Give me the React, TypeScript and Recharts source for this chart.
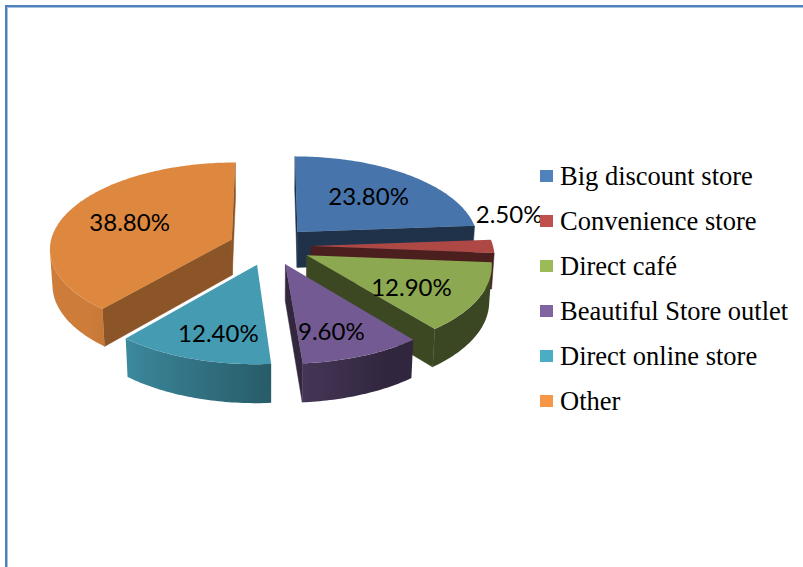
import React from 'react';
import { PieChart, Pie, Cell, Legend } from 'recharts';

const channels = [
  'Big discount store',
  'Convenience store',
  'Direct café',
  'Beautiful Store outlet',
  'Direct online store',
  'Other',
];
const shares = [23.8, 2.5, 12.9, 9.6, 12.4, 38.8];
const colors = ['#4F81BD', '#C0504D', '#9BBB59', '#8064A2', '#4BACC6', '#F79646'];

const data = channels.map((name, i) => ({ name, value: shares[i] }));

// fake 3D look: tilt, camera distance, slab thickness, explode distance
const TILT_K = 0.471;
const TILT_C = 0.882;
const CAM = 1632;
const THICK = 41;
const EXPLODE = 41;
const RAD = Math.PI / 180;

const clamp = (v: number) => Math.max(0, Math.min(1, v));

const shade = (hex: string, f: number) => {
  const n = parseInt(hex.slice(1), 16);
  const r = Math.round(((n >> 16) & 255) * f);
  const g = Math.round(((n >> 8) & 255) * f);
  const b = Math.round((n & 255) * f);
  return `rgb(${r},${g},${b})`;
};

const rimLight = (deg: number) => 0.42 + 0.5 * clamp((deg - 150) / 75);

const renderSlice = (props: any) => {
  const { cx, cy, outerRadius, startAngle, endAngle, index, value, percent } = props;
  const base = colors[index];
  const t0 = 90 - startAngle;
  const t1 = 90 - endAngle;
  const midDeg = (t0 + t1) / 2;
  const m = midDeg * RAD;
  const ox = EXPLODE * Math.sin(m);
  const oz = -EXPLODE * Math.cos(m);
  const camZ = CAM * TILT_C;

  const proj = (x: number, y: number, z: number) => {
    const depth = z * TILT_C + y * TILT_K;
    const s = CAM / (CAM - depth);
    return [cx + s * x, cy + s * (z * TILT_K - y * TILT_C)];
  };
  const at = (deg: number, rr: number, y: number) =>
    proj(ox + rr * Math.sin(deg * RAD), y, oz - rr * Math.cos(deg * RAD));
  const pts = (list: number[][]) => list.map((p) => `${p[0].toFixed(2)},${p[1].toFixed(2)}`).join(' ');

  const faces: React.ReactNode[] = [];

  // cut faces
  [
    [t0, t0 - 90],
    [t1, t1 + 90],
  ].forEach(([edge, nDeg], j) => {
    const nx = Math.sin(nDeg * RAD);
    const nz = -Math.cos(nDeg * RAD);
    const dot = nx * -ox + nz * (camZ - oz);
    if (dot <= 0) return;
    const n = ((nDeg % 360) + 360) % 360;
    const f = 0.43 + 0.2 * clamp((160 - n) / 30);
    const c = shade(base, 0.9 * f);
    faces.push(
      <polygon
        key={`cut-${j}`}
        points={pts([at(edge, 0, 0), at(edge, outerRadius, 0), at(edge, outerRadius, -THICK), at(edge, 0, -THICK)])}
        fill={c}
        stroke={c}
        strokeWidth={0.5}
      />
    );
  });

  // outer rim: visible angle range, one polygon with a horizontal gradient
  const steps = Math.max(2, Math.ceil((t1 - t0) / 1));
  const visible: number[] = [];
  for (let k = 0; k <= steps; k++) {
    const a = t0 + ((t1 - t0) * k) / steps;
    const px = ox + outerRadius * Math.sin(a * RAD);
    const pz = oz - outerRadius * Math.cos(a * RAD);
    const dot = Math.sin(a * RAD) * -px + -Math.cos(a * RAD) * (camZ - pz);
    if (dot > 0) visible.push(a);
  }
  const gradId = `rim-grad-${index}`;
  let defs: React.ReactNode = null;
  if (visible.length > 1) {
    const upper = visible.map((a) => at(a, outerRadius, 0));
    const lower = visible.map((a) => at(a, outerRadius, -THICK)).reverse();
    const xs = upper.map((p) => p[0]);
    const minX = Math.min(...xs);
    const maxX = Math.max(...xs);
    const span = Math.max(1, maxX - minX);
    const stops = visible
      .map((a, k) => ({ off: (xs[k] - minX) / span, c: shade(base, 0.9 * rimLight(a)) }))
      .sort((p, q) => p.off - q.off);
    defs = (
      <defs>
        <linearGradient id={gradId} gradientUnits="userSpaceOnUse" x1={minX} y1={0} x2={maxX} y2={0}>
          {stops.map((s, k) => (
            <stop key={k} offset={s.off} stopColor={s.c} />
          ))}
        </linearGradient>
      </defs>
    );
    faces.push(<polygon key="rim" points={pts([...upper, ...lower])} fill={`url(#${gradId})`} />);
  }

  // top face
  const top: number[][] = [at(0, 0, 0)];
  for (let k = 0; k <= steps; k++) top.push(at(t0 + ((t1 - t0) * k) / steps, outerRadius, 0));
  faces.push(<polygon key="top" points={pts(top)} fill={shade(base, 0.9)} />);

  let lx: number;
  let ly: number;
  if (percent < 0.05) {
    const p = at(midDeg, outerRadius, 0);
    lx = p[0] + 16;
    ly = p[1] - 33;
  } else {
    const p = at(midDeg, outerRadius * 0.62, 0);
    lx = p[0];
    ly = p[1] + 12 * Math.max(0, -Math.cos(m));
  }

  return (
    <g>
      {defs}
      {faces}
      <text
        x={lx}
        y={ly}
        textAnchor="middle"
        dominantBaseline="central"
        fill="#000"
        style={{ fontFamily: 'Lato, sans-serif', fontSize: 24 }}
      >
        {`${Number(value).toFixed(2)}%`}
      </text>
    </g>
  );
};

const renderLegend = () => (
  <svg width={262} height={280}>
    {channels.map((name, i) => (
      <g key={name}>
        <rect x={4} y={15 + i * 45} width={13} height={12} fill={colors[i]} />
        <text
          x={24}
          y={30 + i * 45}
          fill="#000"
          style={{ fontFamily: '"Liberation Serif", "Times New Roman", serif', fontSize: 26.5 }}
        >
          {name}
        </text>
      </g>
    ))}
  </svg>
);

const App = () => {
  return (
    <div
      style={{
        position: 'absolute',
        left: 0,
        top: 0,
        width: 803,
        height: 567,
        overflow: 'hidden',
        background: '#fff',
      }}
    >
      <div
        style={{
          position: 'absolute',
          left: 5,
          top: 5,
          width: 1000,
          height: 1000,
          borderLeft: '2px solid #4F81BD',
          borderTop: '2px solid #4F81BD',
          boxShadow: 'inset 1px 1px 0 #A7C0E0',
        }}
      />
      <div style={{ position: 'absolute', left: 0, top: 0 }}>
        <PieChart width={803} height={567} margin={{ top: 0, right: 0, bottom: 0, left: 0 }}>
          <Pie
            data={data}
            dataKey="value"
            nameKey="name"
            cx={270}
            cy={246}
            outerRadius={182}
            startAngle={90}
            endAngle={-270}
            stroke="none"
            fillOpacity={0}
            label={renderSlice}
            labelLine={false}
            isAnimationActive={false}
          >
            {data.map((d, i) => (
              <Cell key={d.name} fill={colors[i]} />
            ))}
          </Pie>
          <Legend
            layout="vertical"
            align="right"
            verticalAlign="middle"
            content={renderLegend}
            wrapperStyle={{ left: 536, top: 155, width: 262, height: 280, right: 'auto', bottom: 'auto' }}
          />
        </PieChart>
      </div>
    </div>
  );
};

export default App;
